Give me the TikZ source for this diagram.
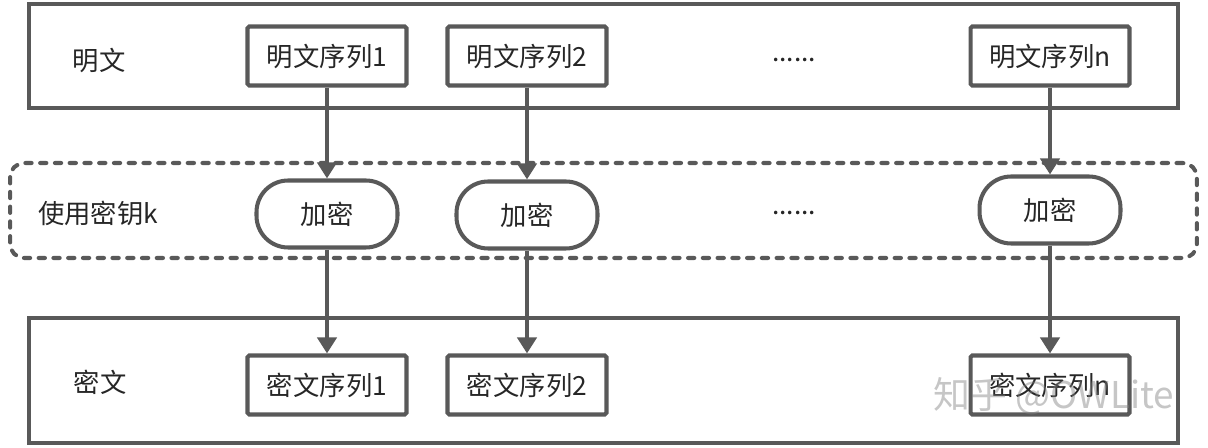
\documentclass[tikz,border=0pt]{standalone}
\usepackage{fontspec}
\setmainfont{Noto Sans CJK SC}
\usetikzlibrary{arrows.meta}
\definecolor{linegray}{HTML}{595959}
\definecolor{textgray}{HTML}{262626}

\begin{document}
\begin{tikzpicture}[x=0.02cm,y=-0.02cm,
        font=\fontsize{15pt}{18pt}\selectfont,text=textgray,
        every node/.style={line width=2.3pt,draw=linegray},
        layer/.style={draw,rectangle,minimum width=22.98cm},
        seqbox/.style={draw,rectangle,rounded corners=1pt,minimum width=3.18cm,minimum height=1.18cm},
        encbox/.style={draw,rectangle,rounded corners=18pt,minimum width=2.82cm,minimum height=1.34cm},
        label/.style={draw=none},
        arr/.style={line width=2.3pt,draw=linegray,-{Triangle[length=0.32cm,width=0.38cm]}}]
        \useasboundingbox(0,0)rectangle(1208,448);
        % three layers
        \node(plain)at(603.5,56)[layer,minimum height=2.08cm]{};
        \node(key)at(603.5,210.5)[draw,rectangle,rounded corners=8pt,line cap=round,dash pattern=on 3.6pt off 4.8pt,minimum width=23.74cm,minimum height=1.9cm]{};
        \node(cipher)at(603.5,380.5)[layer,minimum height=2.5cm]{};
        \node(plainlabel)at(99,60)[label]{明文};
        \node(keylabel)at(98,213)[label]{使用密钥k};
        \node(cipherlabel)at(100,382)[label]{密文};
        % plaintext sequences
        \node(p1)at(327,56)[seqbox]{明文序列1};
        \node(p2)at(527,56)[seqbox]{明文序列2};
        \node(pdots)at(794,60)[label]{......};
        \node(pn)at(1050,56)[seqbox]{明文序列n};
        % encryption
        \node(e1)at(327,214)[encbox]{加密};
        \node(e2)at(527,215)[encbox]{加密};
        \node(edots)at(794,213)[label]{......};
        \node(en)at(1050,210)[encbox]{加密};
        % ciphertext sequences
        \node(c1)at(327,385)[seqbox]{密文序列1};
        \node(c2)at(527,385)[seqbox]{密文序列2};
        \node(cn)at(1050,385)[seqbox]{密文序列n};
        \draw[arr](p1)--(e1);
        \draw[arr](p2)--(e2);
        \draw[arr](pn)--(en);
        \draw[arr](e1)--(c1);
        \draw[arr](e2)--(c2);
        \draw[arr](en)--(cn);
        % watermark
        \node(mark)at(1054,396)[label,text=gray,text opacity=0.45,font=\fontsize{21pt}{24pt}\selectfont]{知乎 @OWLite};
    \end{tikzpicture}
\end{document}
